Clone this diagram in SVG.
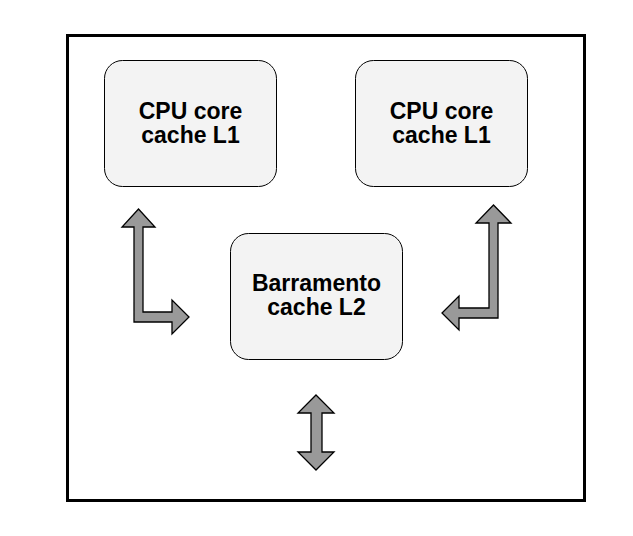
<svg xmlns="http://www.w3.org/2000/svg" width="633" height="536" viewBox="0 0 633 536">
<style>
.box{fill:#f3f3f3;stroke:#000;stroke-width:1}
.lbl{font-family:"Liberation Sans",Arial,sans-serif;font-weight:bold;font-size:23px;text-anchor:middle;fill:#000}
.arr{fill:#999;stroke:#000;stroke-width:1.3;stroke-linejoin:miter}
</style>
<rect width="633" height="536" fill="#fff"/>
<rect id="frame" x="67.5" y="35.5" width="517" height="465" fill="none" stroke="#000" stroke-width="3"/>
<g id="l1-left">
<rect class="box" x="104.5" y="60.5" width="172" height="126" rx="18"/>
<text class="lbl" x="190.5" y="118.5">CPU core</text>
<text class="lbl" x="190.5" y="143">cache L1</text>
</g>
<g id="l1-right">
<rect class="box" x="355.5" y="60.5" width="172" height="126" rx="18"/>
<text class="lbl" x="441.5" y="118.5">CPU core</text>
<text class="lbl" x="441.5" y="143">cache L1</text>
</g>
<g id="l2">
<rect class="box" x="230.5" y="233.5" width="172" height="126" rx="18"/>
<text class="lbl" x="316.5" y="290.5">Barramento</text>
<text class="lbl" x="316.5" y="315">cache L2</text>
</g>
<g id="connectors">
<polygon class="arr" points="138.5,209 155,227 143,227 143,312 172,312 172,300 189,317 172,334 172,322 134,322 134,227 122,227"/>
<polygon class="arr" points="493.5,205 511,223 498,223 498,318 459,318 459,330 442,313 459,296 459,308 489,308 489,223 476,223"/>
<polygon class="arr" points="316,395 334,413 322,413 322,452 334,452 316,470 298,452 311,452 311,413 298,413"/>
</g>
</svg>
